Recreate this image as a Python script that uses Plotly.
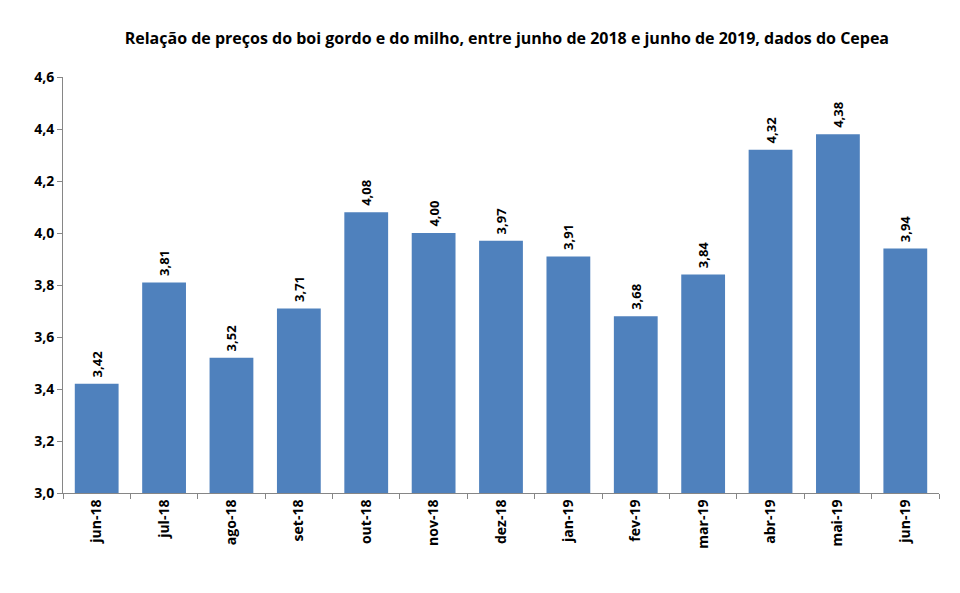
import plotly.graph_objects as go

categories = ["jun-18", "jul-18", "ago-18", "set-18", "out-18", "nov-18", "dez-18",
              "jan-19", "fev-19", "mar-19", "abr-19", "mai-19", "jun-19"]
values = [3.42, 3.81, 3.52, 3.71, 4.08, 4.00, 3.97, 3.91, 3.68, 3.84, 4.32, 4.38, 3.94]
y_ticks = [3.0, 3.2, 3.4, 3.6, 3.8, 4.0, 4.2, 4.4, 4.6]

FONT = "Open Sans"

fig = go.Figure(go.Bar(
    x=categories, y=values,
    marker=dict(color="#4F81BD", line=dict(width=0)),
    texttemplate="\u00a0<b>%{y:.2f}</b>", textposition="outside", textangle=-90,
    textfont=dict(family=FONT, size=13, color="#000000"),
    cliponaxis=False,
))

fig.update_layout(
    width=960, height=593,
    margin=dict(l=63, r=21, t=77, b=100),
    plot_bgcolor="white", paper_bgcolor="white",
    separators=",.",
    bargap=0.35,
    showlegend=False,
    title=dict(text="<b>Relação de preços do boi gordo e do milho, entre junho de 2018 e junho de 2019, dados do Cepea</b>",
               x=0.528, xanchor="center", y=0.935, yanchor="middle",
               font=dict(family=FONT, size=16, color="#000000")),
)
fig.update_yaxes(range=[3.0, 4.6], tickvals=y_ticks,
                 ticktext=["<b>%s</b>" % ("%.1f" % v).replace(".", ",") for v in y_ticks],
                 showgrid=False, zeroline=False,
                 showline=True, linecolor="#868686", linewidth=1,
                 ticks="outside", ticklen=5, tickcolor="#868686",
                 tickfont=dict(family=FONT, size=14, color="#000000"))
fig.update_xaxes(type="category", tickangle=-90, tickson="boundaries",
                 tickvals=categories, ticktext=["<b>%s</b>" % c for c in categories],
                 showgrid=False, showline=True, linecolor="#868686", linewidth=1,
                 ticks="outside", ticklen=5, tickcolor="#868686",
                 tickfont=dict(family=FONT, size=14, color="#000000"))

fig.write_html("out.html")
